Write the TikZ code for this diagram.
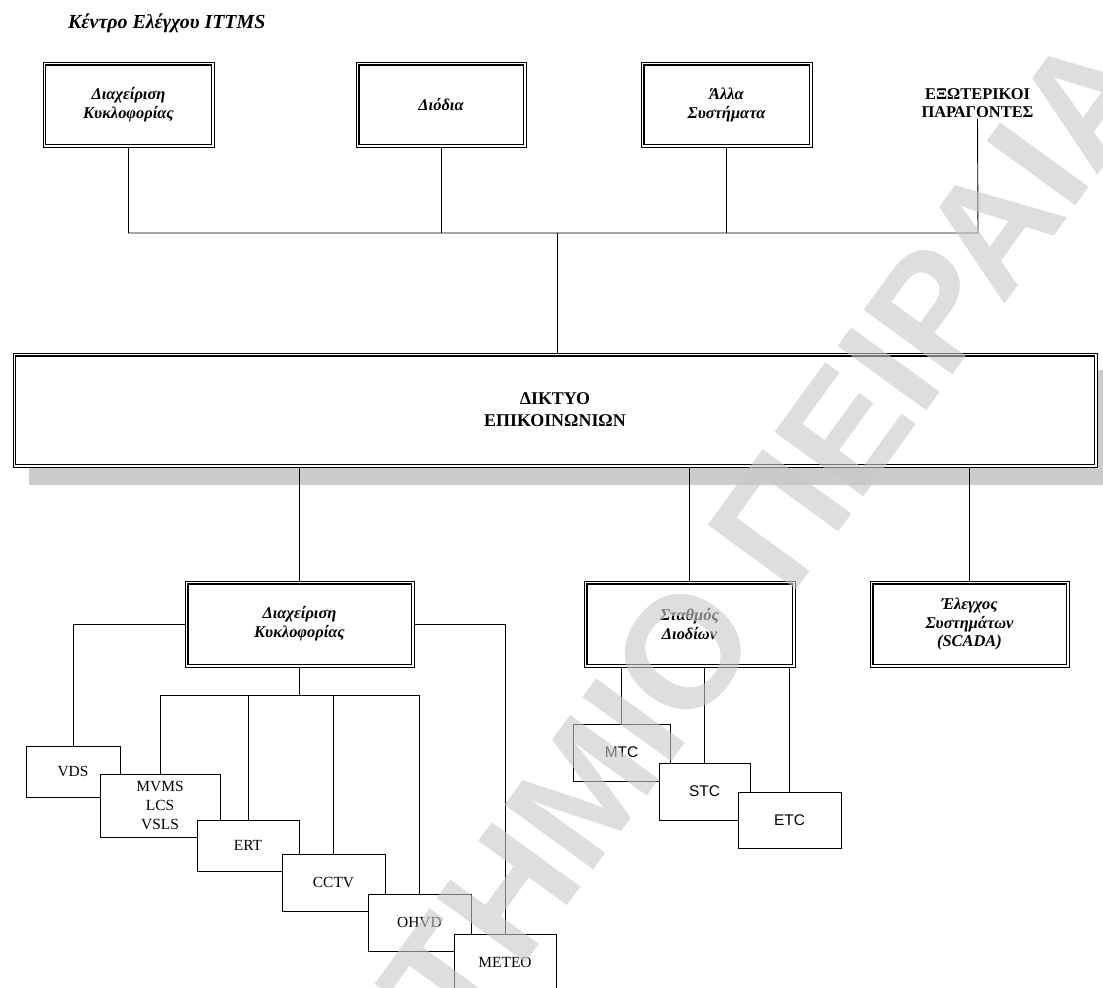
\documentclass[tikz,border=0pt]{standalone}
\usepackage{fontspec}
\setmainfont{Liberation Serif}
\newfontfamily\arialfont{Liberation Sans}
\definecolor{wmgray}{RGB}{200,200,200}
\definecolor{shadowgray}{RGB}{204,204,204}
\tikzset{
  dbox/.style={draw, line width=0.8bp, fill=white, inner sep=0pt, align=center,
    font=\bfseries\itshape\fontsize{16.5}{19}\selectfont},
  sbox/.style={draw, line width=0.9bp, fill=white, inner sep=0pt, align=center,
    font=\fontsize{15.5}{19}\selectfont},
  abox/.style={sbox, font=\arialfont\fontsize{15.5}{18}\selectfont},
  conn/.style={line width=0.9bp},
  innerline/.style={line width=1.4bp},
  wm/.style={text=wmgray, text opacity=0.6, inner sep=0pt,
    font=\arialfont\bfseries\fontsize{160}{160}\selectfont}
}
\begin{document}
\begin{tikzpicture}[x=1bp,y=-1bp]
\useasboundingbox (0,0) rectangle (1103,988);
% title
\node[anchor=base west, inner sep=0pt, font=\bfseries\itshape\fontsize{20}{24}\selectfont] (title) at (68,28) {Κέντρο Ελέγχου ITTMS};
% top boxes
\node[dbox, minimum width=171bp, minimum height=85bp] (t1) at (128.5,104.5) {Διαχείριση\\Κυκλοφορίας};
\node[dbox, minimum width=170bp, minimum height=85bp] (t2) at (441,104.5) {Διόδια};
\node[dbox, minimum width=171bp, minimum height=85bp] (t3) at (726.5,104.5) {Άλλα\\Συστήματα};
\node[inner sep=1.5bp, align=center, font=\bfseries\fontsize{16.5}{18}\selectfont] (ext) at (977.5,103) {ΕΞΩΤΕΡΙΚΟΙ\\ΠΑΡΑΓΟΝΤΕΣ};
% shadow and network box
\fill[shadowgray] (29,370) rectangle (1103,485);
\node[draw, line width=0.8bp, fill=white, inner sep=0pt, minimum width=1084bp, minimum height=114bp, align=center,
  font=\bfseries\fontsize{18}{22}\selectfont] (net) at (555,410) {ΔΙΚΤΥΟ\\ΕΠΙΚΟΙΝΩΝΙΩΝ};
% top connectors
\coordinate (busR) at (978,233);
\coordinate (hub) at (557,233);
\draw[conn] (t1.south) |- (busR) -- (ext.south);
\draw[conn] (t2.south) -- (t2.south |- busR);
\draw[conn] (t3.south) -- (t3.south |- busR);
\draw[conn] (hub) -- (hub |- net.north);
% lower main boxes
\node[dbox, minimum width=229bp, minimum height=86bp] (m) at (299.5,624) {Διαχείριση\\Κυκλοφορίας};
\node[dbox, minimum width=211bp, minimum height=86bp] (s) at (689.5,624) {Σταθμός\\Διοδίων};
\node[dbox, minimum width=199bp, minimum height=86bp] (c) at (969.5,624) {Έλεγχος\\Συστημάτων\\(SCADA)};
\draw[conn] (net.south -| m.north) -- (m.north);
\draw[conn] (net.south -| s.north) -- (s.north);
\draw[conn] (net.south -| c.north) -- (c.north);
% double-border inner lines
\foreach \n in {t1,t2,t3,m,s,c,net}
  \draw[innerline] ([shift={(3.2,3.2)}]\n.north west) rectangle ([shift={(-3.2,-3.2)}]\n.south east);
% traffic management sub-connectors
\coordinate (b2) at (299.5,695);
\coordinate (vdsTop) at (73,746);
\coordinate (meteoTop) at (505,934);
\draw[conn] (m.west) -| (vdsTop);
\draw[conn] (m.east) -| (meteoTop);
\draw[conn] (m.south) -- (m.south |- b2);
\draw[conn] (160,774) |- (419.5,695) -- (419.5,894);
\draw[conn] (248,695) -- (248,820);
\draw[conn] (333.5,695) -- (333.5,854);
% traffic devices
\node[sbox, minimum width=94bp, minimum height=51bp] (vds) at (73,771.5) {VDS};
\node[sbox, minimum width=120bp, minimum height=63bp] (mvms) at (160,805.5) {MVMS\\LCS\\VSLS};
\node[sbox, minimum width=102bp, minimum height=51bp] (ert) at (248,845.5) {ERT};
\node[sbox, minimum width=103bp, minimum height=57bp] (cctv) at (333.5,882.5) {CCTV};
\node[sbox, minimum width=103bp, minimum height=57bp] (ohvd) at (419.5,922.5) {OHVD};
\node[sbox, minimum width=102bp, minimum height=57bp] (meteo) at (505,962.5) {METEO};
% toll connectors
\coordinate (mtcTop) at (621.5,724);
\coordinate (stcTop) at (704.5,763);
\coordinate (etcTop) at (789.5,792);
\draw[conn] (s.south -| mtcTop) -- (mtcTop);
\draw[conn] (s.south -| stcTop) -- (stcTop);
\draw[conn] (s.south -| etcTop) -- (etcTop);
\node[abox, minimum width=97bp, minimum height=57bp] (mtc) at (621.5,752.5) {MTC};
\node[abox, minimum width=91bp, minimum height=57bp] (stc) at (704.5,791.5) {STC};
\node[abox, minimum width=103bp, minimum height=56bp] (etc) at (789.5,820) {ETC};
% watermark
\node[wm, rotate=54, anchor=base west] (wmark) at (47,1622) {ΠΑΝΕΠΙΣΤΗΜΙΟ ΠΕΙΡΑΙΑ};
\end{tikzpicture}
\end{document}
